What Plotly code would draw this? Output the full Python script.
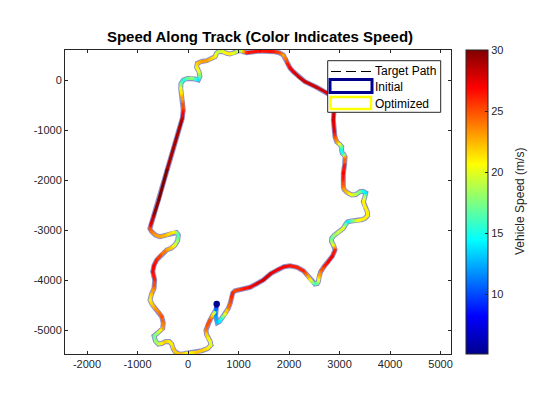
import plotly.graph_objects as go
from plotly.colors import sample_colorscale

# track centreline, start at the blob near (550, -4500)
track_x = [568, 550, 545, 580, 620, 667, 735, 798, 840, 865, 885, 931, 1060, 1228, 1360, 1491, 1640, 1788, 1900, 2020,
           2160, 2283, 2350, 2416, 2465, 2515, 2560, 2580, 2595, 2627, 2695, 2778, 2860, 2911, 2905, 2877, 2840, 2845,
           2890, 2960, 3075, 3120, 3162, 3240, 3340, 3450, 3505, 3555, 3550, 3500, 3471, 3500, 3519, 3465, 3406, 3320,
           3241, 3150, 3090, 3075, 3070, 3075, 3100, 3109, 3085, 3055, 3040, 3043, 3000, 2944, 2910, 2897, 2877, 2890,
           2911, 2850, 2746, 2548, 2317, 2195, 2085, 2020, 1966, 1935, 1887, 1810, 1723, 1426, 1162, 1100, 1030, 960,
           897, 830, 766, 680, 600, 560, 535, 450, 370, 270, 184, 170, 218, 235, 204, 140, 73, -10, -93, -140, -145,
           -125, -105, -95, -113, -416, -580, -680, -739, -755, -719, -640, -554, -420, -291, -230, -192, -205, -257,
           -330, -422, -540, -620, -675, -699, -660, -673, -725, -752, -710, -653, -575, -521, -490, -501, -590, -673,
           -645, -588, -520, -455, -370, -323, -295, -257, -190, -125, -30, 73, 170, 271, 390, 455, 440, 402, 365, 356,
           385, 436, 480, 525, 560, 568]
track_y = [-4480, -4600, -4720, -4854, -4830, -4766, -4680, -4566, -4450, -4334, -4260, -4214, -4185, -4146, -4075,
           -4000, -3870, -3786, -3735, -3714, -3745, -3814, -3890, -3986, -4050, -4080, -4070, -4034, -3940, -3834,
           -3730, -3634, -3520, -3400, -3340, -3300, -3230, -3166, -3110, -3060, -2966, -2890, -2834, -2820, -2814,
           -2790, -2766, -2710, -2634, -2530, -2434, -2340, -2254, -2225, -2234, -2290, -2300, -2250, -2190, -2134,
           -2000, -1866, -1690, -1534, -1490, -1466, -1400, -1334, -1285, -1234, -1140, -1034, -800, -620, -440, -320,
           -254, -146, -34, 60, 166, 240, 334, 430, 500, 545, 566, 580, 546, 565, 590, 565, 534, 520, 534, 570, 566,
           530, 466, 420, 386, 370, 334, 260, 166, 70, 0, 20, 34, 30, 0, -70, -166, -300, -434, -600, -766, -1800,
           -2400, -2720, -2900, -2975, -3034, -3105, -3134, -3100, -3046, -3050, -3100, -3210, -3300, -3360, -3400,
           -3500, -3600, -3710, -3834, -4000, -4166, -4290, -4400, -4490, -4566, -4650, -4734, -4860, -4966, -5050,
           -5120, -5220, -5280, -5270, -5234, -5230, -5280, -5370, -5434, -5475, -5486, -5465, -5454, -5445, -5414,
           -5370, -5300, -5230, -5166, -5085, -5000, -4895, -4800, -4720, -4650, -4580, -4480]
speed = [6, 10, 12, 13, 14, 16, 20, 24, 25, 26, 26, 25, 26, 27, 27.5, 28, 27.5, 27, 27, 26.5,
         26, 26, 24, 21, 18, 16, 17, 19, 22, 24, 26, 27, 27, 26, 23, 20, 18, 17,
         18, 19, 20, 17, 14, 17, 20, 21, 21, 21, 21, 21, 21, 19, 14, 15, 17, 19,
         20, 22, 23, 24, 26, 27, 26, 23, 18, 15, 15, 17, 20, 23, 25, 27, 28, 28,
         28, 28, 28, 28, 28, 28, 27.5, 27, 26, 24, 23, 25, 26, 27, 26, 23, 18, 19,
         20, 21, 21, 20, 19, 20, 21, 22, 23, 23, 22, 21, 20, 17, 14, 16, 18, 17, 15, 17, 20,
         22, 24, 26, 28, 30, 30, 29, 27, 25, 24, 23, 23, 22, 21, 18, 16, 18, 20,
         22, 23, 25, 26, 27, 27, 26, 24, 22, 21, 22, 23, 24, 25, 24, 23, 19, 17,
         18, 19, 21, 22, 21, 21, 22, 22, 22, 22, 21, 21, 22, 22, 21, 20, 20, 21, 22, 24,
         25, 25, 22, 19, 11, 6]

x_ticks = [-2000, -1000, 0, 1000, 2000, 3000, 4000, 5000]
y_ticks = [0, -1000, -2000, -3000, -4000, -5000]
cbar_ticks = [10, 15, 20, 25, 30]
cmin, cmax = 5.1, 30

JET = [[0, "#00008f"], [0.125, "#0000ff"], [0.375, "#00ffff"], [0.625, "#ffff00"], [0.875, "#ff0000"], [1, "#800000"]]
FONT = "Liberation Sans"
INK = "#262626"

fig = go.Figure()

fig.add_trace(go.Scatter(x=track_x, y=track_y, mode="lines", line=dict(color="black", width=0.5, dash="dash"),
                         hoverinfo="skip", showlegend=False, name="Target Path"))
fig.add_trace(go.Scatter(x=track_x, y=track_y, mode="lines", line=dict(color="rgba(30,30,150,0.5)", width=5),
                         hoverinfo="skip", showlegend=False, name="Initial"))

# plotly has no per-point line colour, so one small trace per piece of track
for i in range(len(track_x) - 1):
    mid = (speed[i] + speed[i + 1]) / 2
    col = sample_colorscale(JET, (mid - cmin) / (cmax - cmin))[0]
    fig.add_trace(go.Scatter(x=track_x[i:i + 2], y=track_y[i:i + 2], mode="lines", line=dict(color=col, width=3),
                             hoverinfo="skip", showlegend=False))

# round the joints and carry the colour bar
fig.add_trace(go.Scatter(
    x=track_x, y=track_y, mode="markers", showlegend=False, name="Optimized", hoverinfo="skip",
    marker=dict(size=3, color=speed, colorscale=JET, cmin=cmin, cmax=cmax,
                colorbar=dict(thickness=21.5, thicknessmode="pixels", len=1, lenmode="fraction", x=(466 - 65) / 386,
                              xanchor="left", xpad=0, y=0, yanchor="bottom", ypad=0,
                              tickvals=cbar_ticks, ticks="inside", ticklen=3, tickcolor=INK, outlinecolor=INK,
                              outlinewidth=1, tickfont=dict(family=FONT, size=11, color=INK)))))
# blob where the track starts
fig.add_trace(go.Scatter(x=track_x[:1], y=track_y[:1], mode="markers", showlegend=False, hoverinfo="skip",
                         marker=dict(size=6.5, color="#00008f")))


def px_x(p):
    return (p - 65) / 386


def px_y(p):
    return (354 - p) / 304


shapes = [
    dict(type="rect", x0=px_x(327.7), x1=px_x(440.7), y0=px_y(60.7), y1=px_y(112.3), line=dict(color=INK, width=1),
         fillcolor="white"),
    dict(type="line", x0=px_x(331), x1=px_x(371), y0=px_y(71.5), y1=px_y(71.5), line=dict(color="black", width=1, dash="10px,5px")),
    dict(type="rect", x0=px_x(330), x1=px_x(372), y0=px_y(79.5), y1=px_y(92.5), line=dict(color="#00008f", width=3)),
    dict(type="rect", x0=px_x(330.5), x1=px_x(371), y0=px_y(97), y1=px_y(109), line=dict(color="#ffff00", width=2.5)),
]
for s in shapes:
    s.update(xref="paper", yref="paper", layer="above")

legend_labels = [("Target Path", 71), ("Initial", 87), ("Optimized", 103.5)]
annotations = [dict(text=t, x=px_x(372.5), y=px_y(py), xref="paper", yref="paper", xanchor="left", yanchor="middle",
                    showarrow=False, font=dict(family=FONT, size=12, color="black")) for t, py in legend_labels]
annotations.append(dict(text="Vehicle Speed (m/s)", x=px_x(520), y=px_y(202), xref="paper", yref="paper", xanchor="center",
                        yanchor="middle", textangle=-90, showarrow=False, font=dict(family=FONT, size=12, color=INK)))

fig.update_layout(
    width=560, height=420, margin=dict(l=65, r=109, t=50, b=66, autoexpand=False),
    paper_bgcolor="white", plot_bgcolor="white", font=dict(family=FONT, size=11, color=INK),
    title=dict(text="<b>Speed Along Track (Color Indicates Speed)</b>", x=260 / 560, xanchor="center", y=1 - 37 / 420,
               yanchor="middle", font=dict(family=FONT, size=15, color="black")),
    shapes=shapes, annotations=annotations,
)
fig.update_xaxes(range=[-2436, 5207], tickvals=x_ticks, ticktext=[str(v) for v in x_ticks], ticks="inside", ticklen=3,
                 showgrid=False, zeroline=False, showline=True, mirror="ticks", linecolor=INK, tickcolor=INK)
fig.update_yaxes(range=[-5480, 600], tickvals=y_ticks, ticktext=[str(v) for v in y_ticks], ticks="inside", ticklen=3,
                 showgrid=False, zeroline=False, showline=True, mirror="ticks", linecolor=INK, tickcolor=INK)

fig.write_html("out.html", config=dict(displayModeBar=False), post_script="document.body.style.margin='0';")
